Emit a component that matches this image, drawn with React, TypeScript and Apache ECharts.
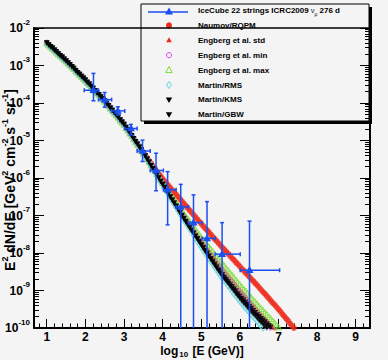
import React, { useEffect, useRef } from "react";
import * as echarts from "echarts";

// ---------- data (log10 values) ----------
// log10(E/GeV) sampling grid of the model curves
const logEnergyGrid = [
  1.0, 1.05, 1.1, 1.15, 1.2, 1.25, 1.3, 1.35, 1.4, 1.45,
  1.5, 1.55, 1.6, 1.65, 1.7, 1.75, 1.8, 1.85, 1.9, 1.95,
  2.0, 2.05, 2.1, 2.15, 2.2, 2.25, 2.3, 2.35, 2.4, 2.45,
  2.5, 2.55, 2.6, 2.65, 2.7, 2.75, 2.8, 2.85, 2.9, 2.95,
  3.0, 3.05, 3.1, 3.15, 3.2, 3.25, 3.3, 3.35, 3.4, 3.45,
  3.5, 3.55, 3.6, 3.65, 3.7, 3.75, 3.8, 3.85, 3.9, 3.95,
  4.0, 4.05, 4.1, 4.15, 4.2, 4.25, 4.3, 4.35, 4.4, 4.45,
  4.5, 4.55, 4.6, 4.65, 4.7, 4.75, 4.8, 4.85, 4.9, 4.95,
  5.0, 5.05, 5.1, 5.15, 5.2, 5.25, 5.3, 5.35, 5.4, 5.45,
  5.5, 5.55, 5.6, 5.65, 5.7, 5.75, 5.8, 5.85, 5.9, 5.95,
  6.0, 6.05, 6.1, 6.15, 6.2, 6.25, 6.3, 6.35, 6.4, 6.45,
  6.5, 6.55, 6.6, 6.65, 6.7, 6.75, 6.8, 6.85, 6.9, 6.95,
  7.0, 7.05, 7.1, 7.15, 7.2, 7.25, 7.3, 7.35, 7.4,
];

// log10(E^2 dN/dE) where all models coincide (E = 10^1.00 ... 10^3.50)
const sharedLowEnergyLog10Flux = [
  -2.40, -2.45, -2.50, -2.54, -2.59, -2.64, -2.69, -2.74, -2.78, -2.83,
  -2.88, -2.93, -2.98, -3.03, -3.08, -3.14, -3.19, -3.24, -3.29, -3.34,
  -3.39, -3.45, -3.50, -3.56, -3.61, -3.67, -3.73, -3.78, -3.84, -3.89,
  -3.95, -4.01, -4.07, -4.14, -4.20, -4.26, -4.32, -4.38, -4.45, -4.51,
  -4.57, -4.65, -4.72, -4.80, -4.87, -4.95, -5.03, -5.10, -5.18, -5.25,
  -5.33,
];

// each model from E = 10^3.55 upwards
const naumovRqpmHigh = [
  -5.39, -5.46, -5.54, -5.61, -5.68, -5.75, -5.82, -5.89, -5.95, -6.02,
  -6.08, -6.14, -6.20, -6.26, -6.32, -6.38, -6.44, -6.50, -6.56, -6.62,
  -6.68, -6.74, -6.80, -6.86, -6.92, -6.98, -7.04, -7.10, -7.16, -7.22,
  -7.28, -7.34, -7.39, -7.45, -7.51, -7.57, -7.63, -7.68, -7.74, -7.80,
  -7.86, -7.91, -7.97, -8.02, -8.08, -8.14, -8.19, -8.25, -8.30, -8.36,
  -8.42, -8.47, -8.53, -8.58, -8.64, -8.70, -8.75, -8.81, -8.86, -8.92,
  -8.98, -9.04, -9.09, -9.15, -9.21, -9.27, -9.33, -9.38, -9.44, -9.50,
  -9.56, -9.63, -9.69, -9.75, -9.81, -9.88, -9.94, -10.0,
];
const engbergStdHigh = [
  -5.41, -5.49, -5.57, -5.65, -5.74, -5.82, -5.90, -5.98, -6.06, -6.14,
  -6.22, -6.30, -6.38, -6.46, -6.54, -6.61, -6.69, -6.77, -6.85, -6.93,
  -7.00, -7.08, -7.15, -7.22, -7.30, -7.37, -7.44, -7.51, -7.59, -7.66,
  -7.73, -7.79, -7.86, -7.92, -7.99, -8.06, -8.12, -8.19, -8.25, -8.32,
  -8.38, -8.45, -8.51, -8.57, -8.64, -8.70, -8.76, -8.82, -8.89, -8.95,
  -9.01, -9.07, -9.13, -9.19, -9.25, -9.31, -9.37, -9.43, -9.49, -9.55,
  -9.61, -9.66, -9.72, -9.77, -9.83, -9.89, -9.94, -10.0, -10.05,
];
const engbergMinHigh = [
  -5.41, -5.49, -5.58, -5.66, -5.74, -5.82, -5.90, -5.99, -6.07, -6.15,
  -6.23, -6.31, -6.39, -6.47, -6.56, -6.64, -6.72, -6.80, -6.88, -6.96,
  -7.04, -7.11, -7.19, -7.26, -7.34, -7.42, -7.49, -7.57, -7.64, -7.72,
  -7.79, -7.86, -7.93, -8.00, -8.07, -8.14, -8.21, -8.28, -8.35, -8.42,
  -8.48, -8.55, -8.61, -8.68, -8.74, -8.80, -8.87, -8.93, -9.00, -9.06,
  -9.12, -9.18, -9.24, -9.30, -9.36, -9.42, -9.48, -9.54, -9.60, -9.66,
  -9.72, -9.77, -9.83, -9.88, -9.94, -9.99, -10.05, -10.1,
];
const engbergMaxHigh = [
  -5.41, -5.49, -5.57, -5.65, -5.73, -5.80, -5.88, -5.96, -6.04, -6.12,
  -6.20, -6.27, -6.35, -6.42, -6.50, -6.58, -6.65, -6.73, -6.80, -6.88,
  -6.95, -7.02, -7.09, -7.16, -7.23, -7.30, -7.37, -7.44, -7.51, -7.58,
  -7.64, -7.71, -7.77, -7.84, -7.90, -7.96, -8.03, -8.09, -8.16, -8.22,
  -8.28, -8.34, -8.41, -8.47, -8.53, -8.59, -8.65, -8.72, -8.78, -8.84,
  -8.90, -8.96, -9.01, -9.07, -9.13, -9.19, -9.25, -9.30, -9.36, -9.42,
  -9.48, -9.53, -9.59, -9.64, -9.70, -9.75, -9.81, -9.86, -9.92, -9.97, -10.03,
];
const martinRmsHigh = [
  -5.41, -5.50, -5.59, -5.67, -5.76, -5.84, -5.93, -6.01, -6.10, -6.18,
  -6.27, -6.35, -6.44, -6.52, -6.61, -6.69, -6.78, -6.86, -6.95, -7.03,
  -7.11, -7.19, -7.27, -7.35, -7.43, -7.52, -7.60, -7.68, -7.76, -7.84,
  -7.92, -7.99, -8.07, -8.14, -8.22, -8.30, -8.37, -8.45, -8.52, -8.60,
  -8.67, -8.74, -8.80, -8.87, -8.94, -9.01, -9.08, -9.14, -9.21, -9.28,
  -9.34, -9.40, -9.46, -9.52, -9.58, -9.64, -9.70, -9.76, -9.82, -9.88,
  -9.94, -9.99, -10.04, -10.1,
];
const martinKmsHigh = [
  -5.41, -5.50, -5.58, -5.67, -5.75, -5.83, -5.92, -6.00, -6.09, -6.17,
  -6.25, -6.34, -6.42, -6.50, -6.59, -6.67, -6.75, -6.83, -6.92, -7.00,
  -7.08, -7.16, -7.23, -7.31, -7.39, -7.47, -7.55, -7.62, -7.70, -7.78,
  -7.85, -7.93, -8.00, -8.08, -8.15, -8.22, -8.30, -8.37, -8.45, -8.52,
  -8.58, -8.65, -8.71, -8.77, -8.84, -8.90, -8.96, -9.02, -9.09, -9.15,
  -9.21, -9.26, -9.32, -9.37, -9.43, -9.48, -9.54, -9.59, -9.65, -9.70,
  -9.75, -9.79, -9.84, -9.89, -9.94, -9.98, -10.03,
];
const martinGbwHigh = [
  -5.41, -5.50, -5.58, -5.67, -5.75, -5.83, -5.92, -6.00, -6.09, -6.17,
  -6.25, -6.34, -6.42, -6.51, -6.59, -6.67, -6.76, -6.84, -6.93, -7.01,
  -7.09, -7.17, -7.25, -7.33, -7.41, -7.48, -7.56, -7.64, -7.72, -7.80,
  -7.88, -7.95, -8.03, -8.10, -8.18, -8.26, -8.33, -8.41, -8.48, -8.56,
  -8.63, -8.69, -8.76, -8.82, -8.89, -8.96, -9.02, -9.09, -9.15, -9.22,
  -9.28, -9.34, -9.39, -9.45, -9.51, -9.57, -9.63, -9.68, -9.74, -9.80,
  -9.85, -9.90, -9.95, -10.0, -10.05,
];

// IceCube 22 strings unfolded points
const iceCubeLogE = [2.21, 2.50, 2.84, 3.18, 3.48, 3.83, 4.13, 4.47, 4.80, 5.15, 5.54, 6.25];
const iceCubeLog10Flux = [-3.66, -3.91, -4.21, -4.68, -5.28, -5.80, -6.31, -6.77, -7.19, -7.61, -8.03, -8.46];
const iceCubeBinLow = [1.97, 2.34, 2.68, 3.02, 3.34, 3.68, 4.02, 4.35, 4.67, 5.02, 5.36, 6.01];
const iceCubeBinHigh = [2.34, 2.68, 3.02, 3.34, 3.68, 4.02, 4.35, 4.67, 5.02, 5.36, 6.01, 7.03];
const iceCubeErrUpper = [-3.21, -3.72, -4.10, -4.57, -4.99, -5.34, -5.83, -6.17, -6.45, -6.63, -7.19, -7.15];
// null: lower error reaches zero flux (bottom of the log axis)
const iceCubeErrLower: (number | null)[] = [-3.94, -4.11, -4.32, -4.85, -5.56, -6.34, -7.25, null, null, null, null, null];

// axis ticks
const xTickValues = [1, 2, 3, 4, 5, 6, 7, 8, 9];
const yTickExponents = [-10, -9, -8, -7, -6, -5, -4, -3, -2];

const legendLabels = [
  "IceCube 22 strings ICRC2009",
  "Naumov/RQPM",
  "Engberg et al. std",
  "Engberg et al. min",
  "Engberg et al. max",
  "Martin/RMS",
  "Martin/KMS",
  "Martin/GBW",
];

// ---------- style ----------
const FONT = '"Liberation Sans", Arial, Helvetica, sans-serif';
const BG = "#f4f4f4";
const BLUE = "#1a4ff0";
const RED = "#ee2a1b";
const MAGENTA = "#e040f0";
const GREEN = "#7ddc3c";
const CYAN = "#5fd6e6";
const BLACK = "#000000";

const X_MIN = 0.67;
const X_MAX = 9.37;
const Y_MIN = -10;
const Y_MAX = -2;

const xMinorTicks: number[] = [];
for (let v = 0.8; v < X_MAX; v += 0.2) {
  const r = Math.round(v * 10) / 10;
  if (Math.abs(r - Math.round(r)) > 1e-6 && r > X_MIN) xMinorTicks.push(r);
}
const yMinorTicks: number[] = [];
for (let e = Y_MIN; e < Y_MAX; e++) {
  for (let k = 2; k <= 9; k++) yMinorTicks.push(e + Math.log10(k));
}

type ModelDef = {
  name: string;
  values: number[];
  symbol: string;
  size: number | number[];
  color: string;
  filled: boolean;
  rotate: number;
};

const models: ModelDef[] = [
  { name: legendLabels[1], values: naumovRqpmHigh, symbol: "circle", size: 6, color: RED, filled: true, rotate: 0 },
  { name: legendLabels[2], values: engbergStdHigh, symbol: "triangle", size: 4.5, color: RED, filled: true, rotate: 0 },
  { name: legendLabels[3], values: engbergMinHigh, symbol: "circle", size: 5, color: MAGENTA, filled: false, rotate: 0 },
  { name: legendLabels[4], values: engbergMaxHigh, symbol: "triangle", size: 6, color: GREEN, filled: false, rotate: 0 },
  { name: legendLabels[5], values: martinRmsHigh, symbol: "diamond", size: [5, 7], color: CYAN, filled: false, rotate: 0 },
  { name: legendLabels[6], values: martinKmsHigh, symbol: "triangle", size: 5.5, color: BLACK, filled: true, rotate: 180 },
  { name: legendLabels[7], values: martinGbwHigh, symbol: "triangle", size: 5.5, color: BLACK, filled: true, rotate: 180 },
];

function buildOption() {
  const modelSeries = models.map((m) => {
    const all = sharedLowEnergyLog10Flux.concat(m.values);
    return {
      type: "scatter",
      name: m.name,
      xAxisIndex: 0,
      yAxisIndex: 0,
      clip: true,
      silent: true,
      symbol: m.symbol,
      symbolSize: m.size,
      symbolRotate: m.rotate,
      itemStyle: m.filled
        ? { color: m.color }
        : { color: "rgba(0,0,0,0)", borderColor: m.color, borderWidth: 1 },
      data: all.map((v, i) => [logEnergyGrid[i], v]),
    };
  });

  const iceCubeData = iceCubeLogE.map((x, i) => [
    x,
    iceCubeLog10Flux[i],
    iceCubeBinLow[i],
    iceCubeBinHigh[i],
    iceCubeErrUpper[i],
    iceCubeErrLower[i] === null ? NaN : iceCubeErrLower[i],
  ]);

  const iceCubeSeries = {
    type: "custom",
    name: legendLabels[0],
    xAxisIndex: 0,
    yAxisIndex: 0,
    silent: true,
    z: 10,
    encode: { x: 0, y: 1 },
    data: iceCubeData,
    renderItem: (params: any, api: any) => {
      const x = api.value(0);
      const y = api.value(1);
      const c = api.coord([x, y]);
      const l = api.coord([api.value(2), y]);
      const r = api.coord([api.value(3), y]);
      const t = api.coord([x, api.value(4)]);
      const lowV = api.value(5);
      const cs = params.coordSys;
      const bottom = cs.y + cs.height;
      const hasLow = !isNaN(lowV) && lowV !== null;
      const b = hasLow ? api.coord([x, lowV])[1] : bottom;
      const st = { stroke: BLUE, lineWidth: 1.5 };
      const cap = 2;
      const children: any[] = [
        { type: "line", shape: { x1: l[0], y1: c[1], x2: r[0], y2: c[1] }, style: st },
        { type: "line", shape: { x1: c[0], y1: t[1], x2: c[0], y2: Math.min(b, bottom) }, style: st },
        { type: "line", shape: { x1: l[0], y1: c[1] - cap, x2: l[0], y2: c[1] + cap }, style: st },
        { type: "line", shape: { x1: r[0], y1: c[1] - cap, x2: r[0], y2: c[1] + cap }, style: st },
        { type: "line", shape: { x1: c[0] - cap, y1: t[1], x2: c[0] + cap, y2: t[1] }, style: st },
        {
          type: "polygon",
          shape: { points: [[c[0], c[1] - 4.5], [c[0] + 4, c[1] + 2.8], [c[0] - 4, c[1] + 2.8]] },
          style: { fill: BLUE },
        },
      ];
      if (hasLow) {
        children.push({ type: "line", shape: { x1: c[0] - cap, y1: b, x2: c[0] + cap, y2: b }, style: st });
      }
      return { type: "group", children };
    },
  };

  // legend (ROOT TLegend style box)
  const LX = 141, LY = 4, LW = 228, LH = 117;
  const rowY = (i: number) => 10.5 + i * 14.9;
  const mx = 169;
  const tx = 198;
  const legendEls: any[] = [
    { type: "rect", shape: { x: LX + 3, y: LY + 3, width: LW, height: LH }, style: { fill: BLACK } },
    { type: "rect", shape: { x: LX, y: LY, width: LW, height: LH }, style: { fill: BG, stroke: BLACK, lineWidth: 1 } },
    { type: "line", shape: { x1: 148, y1: rowY(0) + 1.5, x2: 188, y2: rowY(0) + 1.5 }, style: { stroke: BLUE, lineWidth: 1.5 } },
    {
      type: "polygon",
      shape: { points: [[mx, rowY(0) - 3], [mx + 4, rowY(0) + 4], [mx - 4, rowY(0) + 4]] },
      style: { fill: BLUE },
    },
    { type: "circle", shape: { cx: mx, cy: rowY(1), r: 3 }, style: { fill: RED } },
    {
      type: "polygon",
      shape: { points: [[mx, rowY(2) - 3], [mx + 2.8, rowY(2) + 2], [mx - 2.8, rowY(2) + 2]] },
      style: { fill: RED },
    },
    { type: "circle", shape: { cx: mx, cy: rowY(3), r: 2.6 }, style: { fill: "none", stroke: MAGENTA, lineWidth: 1 } },
    {
      type: "polygon",
      shape: { points: [[mx, rowY(4) - 3.5], [mx + 3.3, rowY(4) + 2.5], [mx - 3.3, rowY(4) + 2.5]] },
      style: { fill: "none", stroke: GREEN, lineWidth: 1 },
    },
    {
      type: "polygon",
      shape: { points: [[mx, rowY(5) - 3.5], [mx + 2.5, rowY(5)], [mx, rowY(5) + 3.5], [mx - 2.5, rowY(5)]] },
      style: { fill: "none", stroke: CYAN, lineWidth: 1 },
    },
    {
      type: "polygon",
      shape: { points: [[mx - 3.2, rowY(6) - 2.5], [mx + 3.2, rowY(6) - 2.5], [mx, rowY(6) + 3]] },
      style: { fill: BLACK },
    },
    {
      type: "polygon",
      shape: { points: [[mx - 3.2, rowY(7) - 2.5], [mx + 3.2, rowY(7) - 2.5], [mx, rowY(7) + 3]] },
      style: { fill: BLACK },
    },
  ];
  legendLabels.forEach((lab, i) => {
    legendEls.push({
      type: "text",
      x: tx,
      y: rowY(i),
      style: {
        text: i === 0 ? `{t|${lab} }{nu|ν}{mu|μ}{t| 276 d}` : `{t|${lab}}`,
        rich: {
          t: { fontSize: 8, fontWeight: "bold", fontFamily: FONT, fill: BLACK, lineHeight: 12 },
          nu: { fontSize: 7, fontWeight: "normal", fontFamily: FONT, fill: BLACK },
          mu: { fontSize: 5, fontWeight: "normal", fontFamily: FONT, fill: BLACK, verticalAlign: "bottom" },
        },
        align: "left",
        verticalAlign: "middle",
      },
    });
  });

  const titleEls: any[] = [
    {
      type: "text",
      x: 202,
      y: 351,
      style: {
        text: "{t|log}{s|10}{t| [E (GeV)]}",
        rich: {
          t: { fontSize: 12, fontWeight: "bold", fontFamily: FONT, fill: BLACK, lineHeight: 14 },
          s: { fontSize: 8, fontWeight: "bold", fontFamily: FONT, fill: BLACK, verticalAlign: "bottom", padding: [0, 1, 0, 1] },
        },
        align: "center",
        verticalAlign: "middle",
      },
    },
    {
      type: "text",
      x: 10,
      y: 180,
      rotation: Math.PI / 2,
      style: {
        text: "{t|E}{s|2}{t| dN/dE [GeV}{s|2}{t| cm}{s|-2}{t| s}{s|-1}{t| sr}{s|-1}{t|]}",
        rich: {
          t: { fontSize: 14, fontWeight: "bold", fontFamily: FONT, fill: BLACK, lineHeight: 20 },
          s: { fontSize: 9, fontWeight: "bold", fontFamily: FONT, fill: BLACK, verticalAlign: "top" },
        },
        align: "center",
        verticalAlign: "middle",
      },
    },
  ];

  const tickLine = { color: BLACK, width: 1 };

  return {
    animation: false,
    backgroundColor: BG,
    grid: { left: 34, right: 18, top: 28, bottom: 32, containLabel: false, outerBoundsMode: "none" },
    xAxis: [
      {
        type: "value",
        position: "bottom",
        min: X_MIN,
        max: X_MAX,
        splitLine: { show: false },
        axisLine: { show: true, onZero: false, lineStyle: { color: BLACK, width: 2 } },
        axisTick: { show: true, inside: true, length: 9, customValues: xTickValues, lineStyle: tickLine },
        axisLabel: {
          show: true,
          customValues: xTickValues,
          margin: 3,
          formatter: (v: number) => String(v),
          fontSize: 12,
          lineHeight: 12,
          fontWeight: "bold",
          fontFamily: FONT,
          color: BLACK,
        },
      },
      {
        type: "value",
        position: "bottom",
        min: X_MIN,
        max: X_MAX,
        splitLine: { show: false },
        axisLine: { show: false, onZero: false },
        axisTick: { show: true, inside: true, length: 4.5, customValues: xMinorTicks, lineStyle: tickLine },
        axisLabel: { show: false },
      },
      {
        type: "value",
        position: "top",
        min: X_MIN,
        max: X_MAX,
        splitLine: { show: false },
        axisLine: { show: true, onZero: false, lineStyle: { color: BLACK, width: 1.5 } },
        axisTick: { show: false },
        axisLabel: { show: false },
      },
    ],
    yAxis: [
      {
        type: "value",
        position: "left",
        min: Y_MIN,
        max: Y_MAX,
        interval: 1,
        splitLine: { show: false },
        axisLine: { show: true, onZero: false, lineStyle: { color: BLACK, width: 2 } },
        axisTick: { show: true, inside: true, length: 10, customValues: yTickExponents, lineStyle: tickLine },
        axisLabel: {
          show: true,
          customValues: yTickExponents,
          margin: 4,
          formatter: (v: number) => `{b|10}{s|${Math.round(v)}}`,
          rich: {
            b: { fontSize: 12, fontWeight: "bold", fontFamily: FONT, color: BLACK, lineHeight: 20 },
            s: { fontSize: 8, fontWeight: "bold", fontFamily: FONT, color: BLACK, verticalAlign: "top" },
          },
        },
      },
      {
        type: "value",
        position: "left",
        min: Y_MIN,
        max: Y_MAX,
        splitLine: { show: false },
        axisLine: { show: false, onZero: false },
        axisTick: { show: true, inside: true, length: 5, customValues: yMinorTicks, lineStyle: tickLine },
        axisLabel: { show: false },
      },
      {
        type: "value",
        position: "right",
        min: Y_MIN,
        max: Y_MAX,
        splitLine: { show: false },
        axisLine: { show: true, onZero: false, lineStyle: { color: BLACK, width: 2 } },
        axisTick: { show: true, inside: true, length: 10, customValues: yTickExponents, lineStyle: tickLine },
        axisLabel: { show: false },
      },
      {
        type: "value",
        position: "right",
        min: Y_MIN,
        max: Y_MAX,
        splitLine: { show: false },
        axisLine: { show: false, onZero: false },
        axisTick: { show: true, inside: true, length: 5, customValues: yMinorTicks, lineStyle: tickLine },
        axisLabel: { show: false },
      },
    ],
    series: [...modelSeries, iceCubeSeries],
    graphic: { elements: [...titleEls, { type: "group", z: 100, children: legendEls }] },
  };
}

export default function App() {
  const ref = useRef<HTMLDivElement>(null);
  useEffect(() => {
    document.body.style.margin = "0";
    const chart = echarts.init(ref.current as HTMLDivElement, null, { renderer: "svg" });
    chart.setOption(buildOption() as any);
    return () => chart.dispose();
  }, []);
  return (
    <div
      ref={ref}
      style={{ position: "absolute", left: 0, top: 0, width: 388, height: 360 }}
    />
  );
}
